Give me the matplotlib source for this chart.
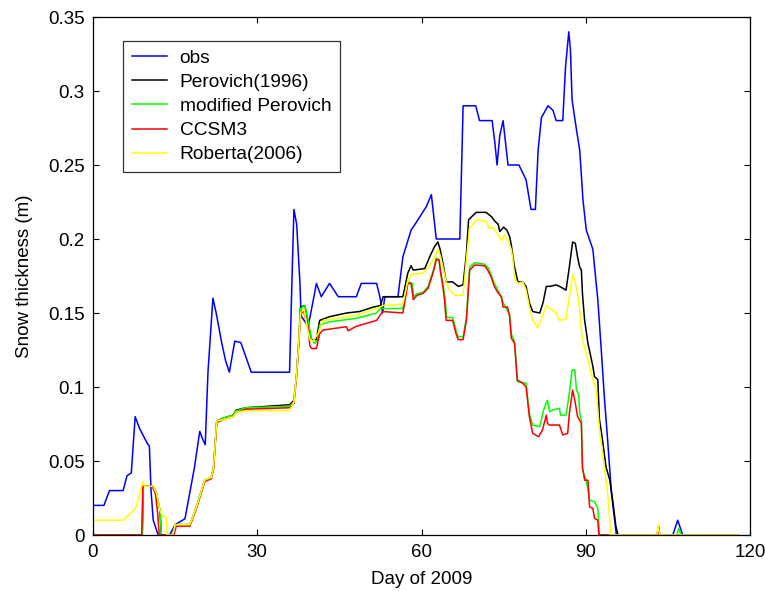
import numpy as np
import matplotlib.pyplot as plt

# observed snow thickness (day, m)
obs_day = [0, 2.0, 3.0, 5.5, 6.2, 7.0, 7.7, 8.5, 9.9, 10.3, 10.6, 11.0, 11.9, 14.0, 15.0,
           16.8, 17.5, 18.5, 19.5, 20.0, 20.5, 21.0, 21.9, 22.5, 23.5, 24.2, 24.9, 25.9,
           27.0, 28.9, 35.9, 36.4, 36.7, 37.2, 37.8, 38.0, 39.3, 40.3, 40.8, 41.7, 43.2,
           44.8, 48.1, 49.0, 51.8, 52.4, 52.9, 53.3, 55.7, 56.6, 58.1, 59.0, 60.9, 61.8,
           62.7, 67.0, 67.6, 69.9, 70.6, 72.9, 73.4, 73.8, 74.3, 74.9, 75.8, 77.8, 79.1,
           80.0, 80.8, 81.3, 81.9, 83.1, 84.0, 84.6, 85.8, 86.3, 86.9, 87.2, 87.5, 88.3,
           88.9, 89.5, 90.1, 91.3, 92.2, 92.8, 93.4, 94.0, 94.7, 95.6, 105.9, 106.8,
           107.7, 118]
obs_val = [0.020, 0.020, 0.030, 0.030, 0.040, 0.042, 0.080, 0.072, 0.062, 0.060, 0.030,
           0.010, 0.000, 0.000, 0.007, 0.011, 0.025, 0.045, 0.070, 0.065, 0.061, 0.110,
           0.160, 0.150, 0.130, 0.118, 0.110, 0.131, 0.130, 0.110, 0.110, 0.180, 0.220,
           0.210, 0.170, 0.148, 0.141, 0.160, 0.170, 0.161, 0.170, 0.161, 0.161, 0.170,
           0.170, 0.161, 0.150, 0.161, 0.161, 0.188, 0.206, 0.211, 0.222, 0.230, 0.200,
           0.200, 0.290, 0.290, 0.280, 0.280, 0.265, 0.250, 0.270, 0.280, 0.250, 0.250,
           0.240, 0.220, 0.220, 0.260, 0.282, 0.290, 0.287, 0.280, 0.280, 0.316, 0.340,
           0.328, 0.294, 0.274, 0.260, 0.226, 0.206, 0.193, 0.159, 0.127, 0.093, 0.064,
           0.028, 0.000, 0.000, 0.010, 0.000, 0.000]

# Perovich (1996)
per_day = [0, 9.0, 9.2, 11.0, 11.6, 12.2, 12.5, 14.6, 15.0, 17.7, 18.9, 20.4, 21.6, 22.0,
           22.6, 23.8, 25.6, 26.2, 28.0, 32.0, 35.9, 36.7, 37.2, 37.6, 37.9, 38.7, 39.4,
           39.9, 40.8, 41.4, 43.2, 46.3, 48.7, 51.2, 52.5, 53.0, 56.6, 57.5, 58.1, 58.5,
           60.6, 61.5, 62.4, 63.0, 63.4, 63.9, 64.5, 65.7, 66.7, 67.6, 68.2, 68.6, 69.7,
           70.0, 71.8, 72.8, 73.4, 74.0, 74.3, 75.0, 75.6, 76.1, 76.4, 76.7, 77.0, 77.6,
           78.5, 79.1, 79.7, 80.3, 81.6, 82.2, 82.8, 83.5, 84.6, 85.2, 86.4, 87.0, 87.6,
           88.1, 88.5, 88.9, 89.2, 89.4, 89.8, 90.4, 91.3, 91.6, 92.2, 92.5, 93.0, 93.7,
           94.4, 94.9, 95.5, 95.9, 103.0, 103.3, 103.5, 118]
per_val = [0, 0, 0.033, 0.033, 0.028, 0.017, 0, 0, 0.007, 0.007, 0.019, 0.037, 0.039,
           0.045, 0.077, 0.079, 0.081, 0.0845, 0.086, 0.087, 0.088, 0.091, 0.109, 0.132,
           0.154, 0.155, 0.141, 0.132, 0.132, 0.145, 0.1475, 0.150, 0.151, 0.154, 0.155,
           0.161, 0.161, 0.177, 0.182, 0.179, 0.180, 0.188, 0.195, 0.198, 0.193, 0.184,
           0.171, 0.171, 0.168, 0.169, 0.190, 0.213, 0.217, 0.218, 0.218, 0.215, 0.212,
           0.210, 0.205, 0.208, 0.206, 0.2016, 0.196, 0.188, 0.181, 0.171, 0.171, 0.168,
           0.157, 0.151, 0.150, 0.157, 0.168, 0.168, 0.169, 0.168, 0.1655, 0.181, 0.198,
           0.197, 0.188, 0.181, 0.179, 0.163, 0.145, 0.1295, 0.114, 0.107, 0.105, 0.078,
           0.066, 0.046, 0.037, 0.024, 0.006, 0, 0, 0.006, 0, 0]

# modified Perovich
mod_day = [0, 9.0, 9.2, 11.0, 11.6, 12.2, 12.5, 14.6, 15.0, 17.7, 18.9, 20.4, 21.6, 22.0,
           22.6, 23.8, 25.6, 26.2, 28.0, 35.9, 36.7, 37.2, 37.6, 37.9, 38.7, 39.3, 39.9,
           40.5, 41.1, 41.4, 43.2, 48.1, 51.8, 52.5, 56.6, 57.2, 57.5, 58.3, 58.6, 59.2,
           60.3, 61.2, 62.1, 62.7, 63.2, 63.5, 63.9, 64.3, 64.6, 65.7, 66.4, 66.7, 67.6,
           68.2, 68.8, 69.7, 71.5, 72.1, 72.7, 73.3, 74.3, 74.9, 76.1, 76.4, 77.0, 77.5,
           78.5, 79.1, 79.7, 80.3, 81.6, 82.3, 83.0, 83.4, 84.0, 85.2, 85.4, 86.4, 87.0,
           87.5, 88.0, 88.3, 88.7, 88.9, 89.2, 89.4, 90.1, 90.7, 91.6, 92.2, 92.5, 106.6,
           107.0, 107.4, 118]
mod_val = [0, 0, 0.033, 0.033, 0.028, 0.017, 0, 0, 0.007, 0.007, 0.019, 0.037, 0.039,
           0.045, 0.077, 0.079, 0.081, 0.084, 0.086, 0.087, 0.090, 0.109, 0.132, 0.153,
           0.155, 0.145, 0.132, 0.1295, 0.132, 0.142, 0.144, 0.1464, 0.150, 0.153, 0.153,
           0.165, 0.171, 0.170, 0.161, 0.163, 0.164, 0.168, 0.178, 0.187, 0.186, 0.178,
           0.170, 0.160, 0.147, 0.147, 0.137, 0.134, 0.134, 0.147, 0.181, 0.184, 0.183,
           0.181, 0.176, 0.170, 0.163, 0.157, 0.149, 0.136, 0.1306, 0.1036, 0.103, 0.1025,
           0.082, 0.0743, 0.0732, 0.0845, 0.091, 0.0833, 0.0845, 0.0856, 0.081, 0.081,
           0.0957, 0.1115, 0.1115, 0.098, 0.095, 0.082, 0.078, 0.044, 0.037, 0.0236,
           0.0225, 0.018, 0, 0, 0.0045, 0, 0]

# CCSM3
ccsm_day = [0, 8.9, 9.1, 10.8, 11.4, 11.8, 12.1, 14.8, 15.2, 17.7, 18.9, 20.4, 21.6, 22.0,
            22.6, 23.8, 25.6, 26.2, 28.0, 35.9, 36.7, 37.2, 37.6, 37.9, 38.5, 38.9, 39.3,
            39.6, 39.9, 40.8, 41.4, 42.0, 46.3, 46.6, 48.1, 51.8, 52.9, 56.6, 57.2, 57.5,
            58.1, 58.5, 59.2, 60.3, 61.2, 62.1, 62.7, 63.2, 63.5, 63.9, 64.2, 64.5, 65.7,
            66.3, 66.7, 67.6, 68.2, 68.8, 69.7, 71.5, 72.1, 72.7, 73.3, 73.9, 74.6, 74.9,
            75.7, 76.1, 76.4, 77.0, 77.5, 78.5, 79.1, 79.7, 80.3, 81.4, 82.1, 82.8, 83.0,
            83.4, 85.2, 85.8, 86.7, 87.0, 87.6, 88.1, 88.5, 89.2, 89.4, 89.8, 90.4, 90.7,
            91.3, 91.6, 92.2, 92.4, 103.1, 103.3, 103.5, 118]
ccsm_val = [0, 0, 0.033, 0.033, 0.028, 0.015, 0, 0, 0.006, 0.006, 0.018, 0.036, 0.038,
            0.044, 0.076, 0.078, 0.080, 0.083, 0.085, 0.086, 0.089, 0.108, 0.130, 0.150,
            0.151, 0.145, 0.140, 0.128, 0.126, 0.126, 0.136, 0.1385, 0.1407, 0.138, 0.141,
            0.145, 0.151, 0.150, 0.163, 0.170, 0.170, 0.159, 0.162, 0.1633, 0.1667, 0.177,
            0.186, 0.186, 0.177, 0.168, 0.159, 0.145, 0.145, 0.136, 0.132, 0.132, 0.145,
            0.179, 0.1824, 0.182, 0.179, 0.1745, 0.168, 0.164, 0.161, 0.154, 0.154, 0.1475,
            0.133, 0.1295, 0.1047, 0.1025, 0.100, 0.080, 0.0687, 0.0664, 0.071, 0.081,
            0.0755, 0.0743, 0.0743, 0.0676, 0.0687, 0.082, 0.098, 0.089, 0.080, 0.0755,
            0.046, 0.037, 0.037, 0.019, 0.018, 0.0113, 0.010, 0, 0, 0.004, 0, 0]

# Roberta (2006)
rob_day = [0, 5.5, 7.0, 7.9, 9.1, 9.4, 11.0, 11.6, 12.2, 12.6, 13.4, 13.5, 14.6, 15.0,
           17.7, 18.9, 20.4, 21.6, 22.0, 22.6, 23.8, 25.6, 26.2, 28.0, 30.0, 35.9, 36.7,
           37.2, 37.6, 37.9, 38.5, 39.3, 39.6, 40.2, 41.1, 42.0, 48.1, 51.8, 52.9, 56.6,
           57.5, 58.1, 60.3, 61.5, 62.4, 63.0, 63.5, 63.9, 64.5, 65.1, 66.1, 67.6, 68.2,
           68.8, 69.3, 70.0, 71.8, 72.4, 72.9, 73.6, 74.6, 75.2, 75.8, 76.4, 76.7, 77.0,
           77.6, 78.5, 79.1, 79.7, 80.3, 81.2, 81.8, 82.8, 83.4, 84.0, 84.6, 85.2, 86.4,
           87.0, 87.6, 88.1, 88.5, 88.9, 89.2, 89.5, 90.1, 91.0, 91.9, 92.5, 93.4, 94.0,
           94.4, 94.5, 103.0, 103.2, 103.5, 118]
rob_val = [0.010, 0.010, 0.015, 0.019, 0.036, 0.033, 0.033, 0.028, 0.017, 0.013, 0.012, 0,
           0, 0.007, 0.007, 0.019, 0.037, 0.039, 0.045, 0.077, 0.078, 0.080, 0.083, 0.084,
           0.084, 0.084, 0.090, 0.109, 0.132, 0.150, 0.153, 0.137, 0.132, 0.131, 0.136,
           0.145, 0.1486, 0.153, 0.155, 0.156, 0.172, 0.176, 0.177, 0.182, 0.188, 0.193,
           0.188, 0.181, 0.171, 0.1655, 0.162, 0.162, 0.186, 0.208, 0.2095, 0.213, 0.212,
           0.207, 0.208, 0.205, 0.199, 0.203, 0.198, 0.193, 0.186, 0.1735, 0.170, 0.171,
           0.1655, 0.154, 0.145, 0.140, 0.145, 0.155, 0.153, 0.152, 0.150, 0.145, 0.146,
           0.161, 0.176, 0.170, 0.163, 0.152, 0.138, 0.130, 0.123, 0.109, 0.098, 0.071,
           0.046, 0.028, 0.010, 0, 0, 0.007, 0, 0]

x_ticks = [0, 30, 60, 90, 120]
y_ticks = [0, 0.05, 0.1, 0.15, 0.2, 0.25, 0.3, 0.35]
y_labels = ['0', '0.05', '0.1', '0.15', '0.2', '0.25', '0.3', '0.35']

plt.rcParams['font.family'] = ['Liberation Sans', 'DejaVu Sans']

fig = plt.figure(figsize=(7.65, 5.91), dpi=100)
ax = fig.add_axes([93 / 765, 56 / 591, 657 / 765, 518 / 591])

lw = 1.1
ax.plot(obs_day, obs_val, color='#0000ff', lw=lw, label='obs')
ax.plot(per_day, per_val, color='#000000', lw=lw, label='Perovich(1996)')
ax.plot(mod_day, mod_val, color='#00ff00', lw=lw, label='modified Perovich')
ax.plot(ccsm_day, ccsm_val, color='#ff0000', lw=lw, label='CCSM3')
ax.plot(rob_day, rob_val, color='#ffff00', lw=lw, label='Roberta(2006)')

ax.set_xlim(0, 120)
ax.set_ylim(0, 0.35)
ax.set_xticks(x_ticks)
ax.set_yticks(y_ticks)
ax.set_yticklabels(y_labels)
ax.tick_params(direction='in', top=True, right=True, length=4, width=0.8,
               labelsize=13.5)
ax.tick_params(axis='x', pad=6.5)
ax.tick_params(axis='y', pad=6)
for s in ax.spines.values():
    s.set_linewidth(0.9)

ax.set_xlabel('Day of 2009', fontsize=13.5, labelpad=7)
ax.set_ylabel('Snow thickness (m)', fontsize=13.5, labelpad=11)

leg = ax.legend(loc='upper left', bbox_to_anchor=(0.0457, 0.954), borderaxespad=0,
                fontsize=13.8, frameon=True, fancybox=False, edgecolor='black',
                handlelength=1.85, handletextpad=0.65, labelspacing=0.35,
                borderpad=0.45)
leg.get_frame().set_linewidth(0.9)

fig.savefig('out.png', dpi=100)
